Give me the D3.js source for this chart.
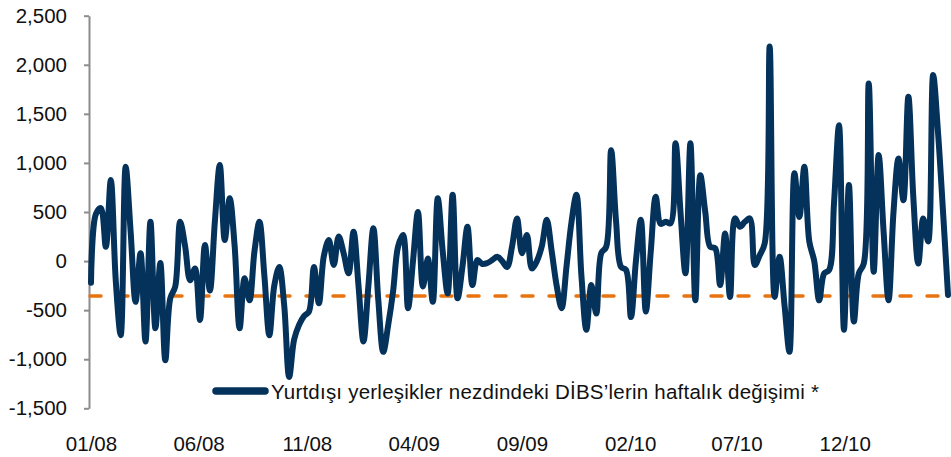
<!DOCTYPE html>
<html lang="tr">
<head>
<meta charset="UTF-8">
<title>DİBS haftalık değişim</title>
<script src="https://cdn.jsdelivr.net/npm/d3@7/dist/d3.min.js"></script>
<style>
    body { margin: 0; background: #fff; }
    svg { display: block; font-family: "Liberation Sans", Arial, sans-serif; }
</style>
</head>
<body>
<svg width="951" height="457"></svg>
<script>
    // weekly change, USD mn
    const startWeek = "2008-01-01";
    const weeklyChange = [
        -220, 480, 540, 145, 825, -200, -755, 960, 300, -415,
        80, -820, 400, -685, -20, -1010, -380, -260, 400, 150,
        -195, -75, -600, 165, -300, 400, 980, 215, 640, 150,
        -685, -175, -400, 100, 400, -150, -755, -250, -60, -450,
        -1180, -800, -650, -560, -515, -60, -430, 50, 215, -40,
        250, 80, -125, 300, -250, -820, -250, 335, -400, -925,
        -650, -300, 150, 265, -480, 0, 500, -260, 25, -415,
        640, 100, -330, 675, -380, -50, 350, -245, 10, -30,
        -20, 10, 45, 0, -60, 150, 435, 80, 265, -75,
        0, 150, 420, 100, -250, -480, -50, 400, 675, -150,
        -700, -245, -535, 80, 145, 1130, 400, -60, -90, -570,
        0, 420, -515, 100, 655, 380, 400, 385, 1200, 500,
        -125, 1200, -400, 875, 500, 145, 130, -245, 280, -365,
        435, 350, 400, 435, -40, 60, 180, 2185, -365, 45,
        -450, -925, 895, 450, 960, 200, 0, -400, -125, -90,
        600, 1385, -700, 775, -615, -125, -25, 1810, -110, 1080,
        300, -400, 500, 1045, 620, 1675, 650, -25, 435, 200,
        1895, 1300, 500, -345
    ];
    const averageLevel = -355;
    const yTicks = [-1500, -1000, -500, 0, 500, 1000, 1500, 2000, 2500];
    const xTickDates = ["2008-01-01", "2008-06-01", "2008-11-01", "2009-04-01",
                        "2009-09-01", "2010-02-01", "2010-07-01", "2010-12-01"];
    const legendLabel = "Yurtdışı yerleşikler nezdindeki DİBS’lerin haftalık değişimi *";

    const parse = d3.utcParse("%Y-%m-%d");
    const start = parse(startWeek);
    const data = weeklyChange.map((v, i) => ({ date: d3.utcDay.offset(start, 7 * i), value: v }));

    const svg = d3.select("svg");
    const plotLeft = 89, plotRight = 948, plotTop = 15.7, plotBottom = 408.3;

    const x = d3.scaleUtc()
        .domain(d3.extent(data, d => d.date))
        .range([plotLeft + 2, plotRight]);
    const y = d3.scaleLinear()
        .domain([-1500, 2500])
        .range([plotBottom, plotTop]);

    const loc = d3.formatLocale({ decimal: ".", thousands: ",", grouping: [3], currency: ["", ""], minus: "-" });

    // y axis
    const yAxis = svg.append("g")
        .attr("transform", `translate(${plotLeft},0)`)
        .call(d3.axisLeft(y).tickValues(yTicks).tickFormat(loc.format(",")).tickSize(5).tickSizeOuter(0).tickPadding(17));
    yAxis.select(".domain").attr("stroke", "#8c8c8c").attr("stroke-width", 2);
    yAxis.selectAll(".tick line").attr("stroke", "#8c8c8c").attr("stroke-width", 2);
    yAxis.selectAll("text").attr("font-size", "20.5px").attr("fill", "#111")
        .attr("font-family", "'Liberation Sans', Arial, sans-serif");

    // x axis labels (no line)
    const xAxis = svg.append("g")
        .attr("transform", `translate(0,${plotBottom})`)
        .call(d3.axisBottom(x).tickValues(xTickDates.map(parse)).tickFormat(d3.utcFormat("%m/%y")).tickSize(0).tickPadding(28.5));
    xAxis.select(".domain").remove();
    xAxis.selectAll("text").attr("font-size", "20.5px").attr("fill", "#111")
        .attr("font-family", "'Liberation Sans', Arial, sans-serif");

    // dashed reference line
    svg.append("line")
        .attr("x1", plotLeft + 1).attr("x2", 951)
        .attr("y1", y(averageLevel)).attr("y2", y(averageLevel))
        .attr("stroke", "#e8730f")
        .attr("stroke-width", 3.5)
        .attr("stroke-dasharray", "11 16")
        .attr("stroke-linecap", "round");

    // series
    const line = d3.line()
        .x(d => x(d.date))
        .y(d => y(d.value))
        .curve(d3.curveCatmullRom.alpha(0.5));

    svg.append("path")
        .datum(data)
        .attr("fill", "none")
        .attr("stroke", "#04325a")
        .attr("stroke-width", 6)
        .attr("stroke-linejoin", "round")
        .attr("stroke-linecap", "round")
        .attr("d", line);

    // legend
    const lg = svg.append("g").attr("transform", "translate(0,391)");
    lg.append("line")
        .attr("x1", 216).attr("x2", 265)
        .attr("stroke", "#04325a").attr("stroke-width", 7.5).attr("stroke-linecap", "round");
    lg.append("text")
        .attr("x", 271).attr("y", 8)
        .attr("font-size", "20.5px").attr("fill", "#111")
        .attr("textLength", 548).attr("lengthAdjust", "spacing")
        .text(legendLabel);
</script>
</body>
</html>
